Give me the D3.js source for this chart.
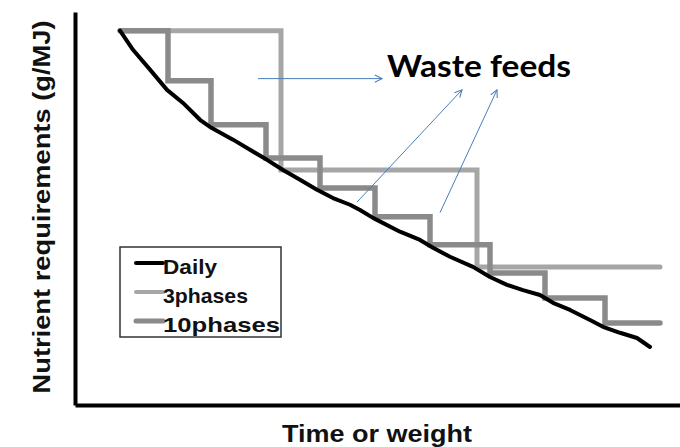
<!DOCTYPE html>
<html>
<head>
<meta charset="utf-8">
<script src="https://cdn.jsdelivr.net/npm/d3@7"></script>
<style>
  body { margin: 0; background: #fff; }
  svg { display: block; }
</style>
</head>
<body>
<svg></svg>
<script>
// daily requirement curve (time units, g/MJ relative)
const dailyX = [9, 11.6, 15, 18.4, 21.6, 25, 27, 31.6, 35, 38.4, 41.6, 45, 48.4, 51.6, 55, 57, 59.6, 65, 69, 71.6, 75, 79.6, 83, 86.4, 89.6, 93, 95.6, 99, 103, 105.6, 109, 112.4, 115];
const dailyY = [100, 94.9, 89.6, 84.2, 80.7, 76.2, 74.3, 70.9, 68.2, 65.5, 62.8, 60.2, 57.5, 55.3, 53.5, 52.1, 50.0, 46.3, 44.1, 42.0, 39.6, 36.9, 34.2, 32.1, 30.7, 29.4, 27.3, 25.4, 22.7, 20.9, 19.3, 17.9, 15.5];

// 3 phases: phase start times and levels (last entry = end of feeding)
const phase3X = [9, 41.2, 80.4, 117];
const phase3Y = [100, 62.8, 36.9, 36.9];

// 10 phases
const phase10X = [9, 18.6, 27.2, 38.2, 49, 60, 71, 83, 94, 106, 117];
const phase10Y = [100, 86.6, 74.9, 66.0, 58.0, 50.3, 42.8, 35.3, 28.6, 21.9, 21.9];

const legendLabels = ["Daily", "3phases", "10phases"];
const annotation = "Waste feeds";
const xTitle = "Time or weight";
const yTitle = "Nutrient requirements (g/MJ)";

const width = 680;
const height = 447;

const svg = d3.select("svg")
  .attr("width", width)
  .attr("height", height);

const x = d3.scaleLinear().domain([0, 121]).range([75, 680]);
const y = d3.scaleLinear().domain([0, 105]).range([405, 12]);

// axes: plain thick lines, no ticks
svg.append("g")
  .attr("transform", "translate(0,405)")
  .call(d3.axisBottom(x).ticks(0).tickSizeOuter(0))
  .select(".domain")
  .attr("stroke", "#000")
  .attr("stroke-width", 4);

svg.append("g")
  .attr("transform", "translate(75,0)")
  .call(d3.axisLeft(y).ticks(0).tickSizeOuter(0))
  .select(".domain")
  .attr("stroke", "#000")
  .attr("stroke-width", 4);

const zip = (xs, ys) => xs.map((v, i) => [v, ys[i]]);

const stepLine = d3.line()
  .x(d => x(d[0]))
  .y(d => y(d[1]))
  .curve(d3.curveStepAfter);

const plainLine = d3.line()
  .x(d => x(d[0]))
  .y(d => y(d[1]));

svg.append("path")
  .datum(zip(phase3X, phase3Y))
  .attr("d", stepLine)
  .attr("fill", "none")
  .attr("stroke", "#a6a6a6")
  .attr("stroke-width", 5)
  .attr("stroke-linecap", "round");

svg.append("path")
  .datum(zip(phase10X, phase10Y))
  .attr("d", stepLine)
  .attr("fill", "none")
  .attr("stroke", "#8a8a8a")
  .attr("stroke-width", 5.5)
  .attr("stroke-linecap", "round");

svg.append("path")
  .datum(zip(dailyX, dailyY))
  .attr("d", plainLine)
  .attr("fill", "none")
  .attr("stroke", "#000")
  .attr("stroke-width", 4)
  .attr("stroke-linejoin", "round")
  .attr("stroke-linecap", "round");

// arrows
const defs = svg.append("defs");
defs.append("marker")
  .attr("id", "arr")
  .attr("viewBox", "0 0 10 10")
  .attr("refX", 9)
  .attr("refY", 5)
  .attr("markerWidth", 9)
  .attr("markerHeight", 9)
  .attr("markerUnits", "userSpaceOnUse")
  .attr("orient", "auto")
  .append("path")
  .attr("d", "M1,1 L9,5 L1,9")
  .attr("fill", "none")
  .attr("stroke", "#4a7ebb")
  .attr("stroke-width", 1.2);

const arrows = [
  [[36.6, 87.2], [61.4, 87.2]],
  [[56.4, 54.2], [77.4, 84.2]],
  [[73, 51.4], [84.4, 84.2]]
];

svg.selectAll(".arrow")
  .data(arrows)
  .enter()
  .append("line")
  .attr("class", "arrow")
  .attr("x1", d => x(d[0][0]))
  .attr("y1", d => y(d[0][1]))
  .attr("x2", d => x(d[1][0]))
  .attr("y2", d => y(d[1][1]))
  .attr("stroke", "#4a7ebb")
  .attr("stroke-width", 1)
  .attr("marker-end", "url(#arr)");

svg.append("text")
  .attr("x", x(62.4))
  .attr("y", 77)
  .attr("font-family", "Lato, sans-serif")
  .attr("font-weight", "bold")
  .attr("font-size", 30)
  .attr("textLength", 184)
  .attr("lengthAdjust", "spacingAndGlyphs")
  .attr("fill", "#000")
  .text(annotation);

// legend
const legend = svg.append("g");
legend.append("rect")
  .attr("x", 120)
  .attr("y", 247)
  .attr("width", 161)
  .attr("height", 90)
  .attr("fill", "#fff")
  .attr("stroke", "#333")
  .attr("stroke-width", 1.5);

const legendColors = ["#000", "#a6a6a6", "#8a8a8a"];
const legendWidths = [4, 4, 5];
const legendTextLen = [54, 85, 117];

legendLabels.forEach((lab, i) => {
  const ly = 263 + i * 29;
  legend.append("line")
    .attr("x1", 136).attr("x2", 163)
    .attr("y1", ly).attr("y2", ly)
    .attr("stroke", legendColors[i])
    .attr("stroke-width", legendWidths[i])
    .attr("stroke-linecap", "round");
  legend.append("text")
    .attr("x", 163)
    .attr("y", ly + 10.5)
    .attr("font-family", "Liberation Sans, Arial, sans-serif")
    .attr("font-weight", "bold")
    .attr("font-size", 21)
    .attr("textLength", legendTextLen[i])
    .attr("lengthAdjust", "spacingAndGlyphs")
    .attr("fill", "#111")
    .text(lab);
});

// axis titles
svg.append("text")
  .attr("x", 377)
  .attr("y", 442)
  .attr("text-anchor", "middle")
  .attr("font-family", "Liberation Sans, Arial, sans-serif")
  .attr("font-weight", "bold")
  .attr("font-size", 23)
  .attr("textLength", 190)
  .attr("lengthAdjust", "spacingAndGlyphs")
  .attr("fill", "#111")
  .text(xTitle);

svg.append("text")
  .attr("transform", "translate(50,207) rotate(-90)")
  .attr("text-anchor", "middle")
  .attr("font-family", "Liberation Sans, Arial, sans-serif")
  .attr("font-weight", "bold")
  .attr("font-size", 24)
  .attr("textLength", 373)
  .attr("lengthAdjust", "spacingAndGlyphs")
  .attr("fill", "#111")
  .text(yTitle);
</script>
</body>
</html>
